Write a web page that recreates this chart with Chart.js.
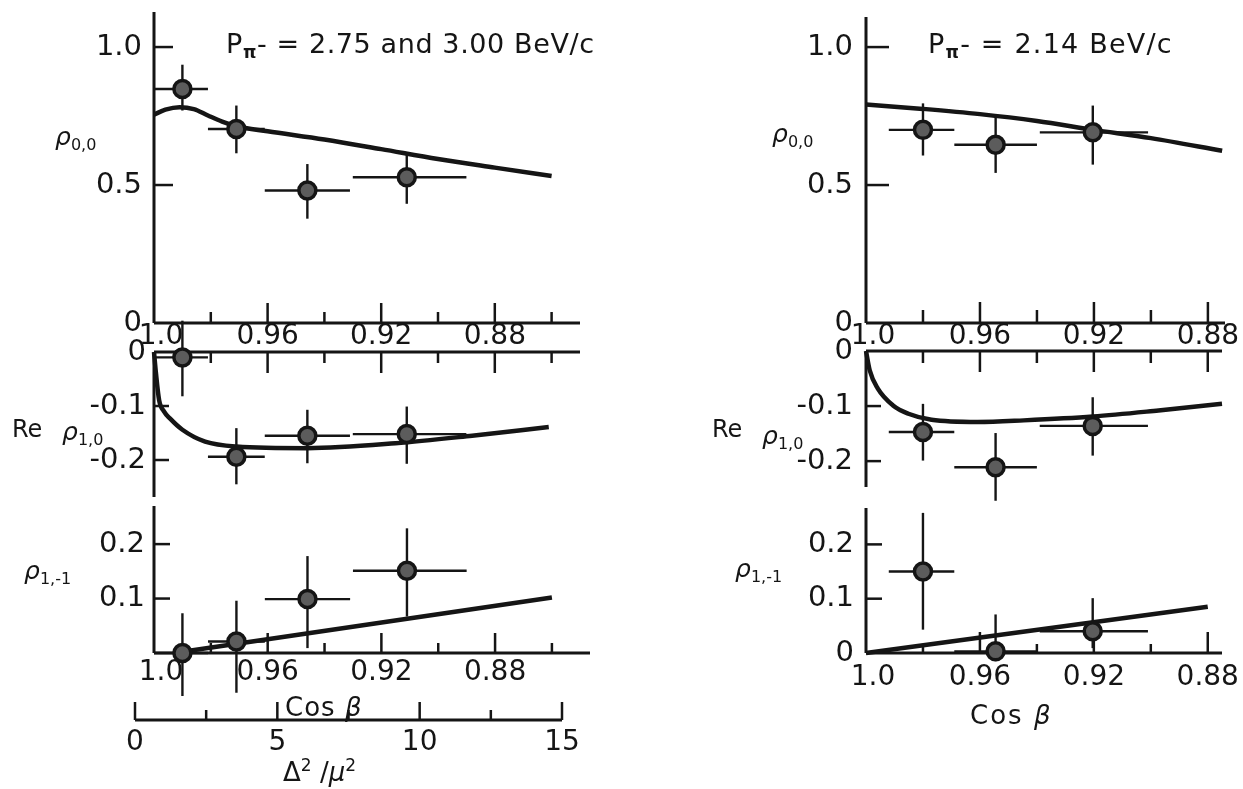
<!DOCTYPE html>
<html>
<head>
<meta charset="utf-8">
<script src="https://cdn.jsdelivr.net/npm/chart.js@4.4.1/dist/chart.umd.min.js"></script>
<style>
  html, body { margin: 0; padding: 0; background: #fff; }
  #page { position: relative; width: 1243px; height: 789px; overflow: hidden; background: #fff; }
  #page canvas { position: absolute; left: 0; top: 0; }
  .lbl { position: absolute; font-family: "DejaVu Sans", sans-serif; color: #151515; line-height: 1; white-space: nowrap; }
  .t { font-size: 27px; letter-spacing: 0.6px; }
  .t sub { font-size: 17px; font-weight: bold; vertical-align: -5px; }
  .g { font-size: 24px; }
  .g i { font-size: 25px; }
  .g sub { font-size: 16px; vertical-align: -5px; }
  .c { font-size: 26px; }
</style>
</head>
<body>
<div id="page">
  <canvas id="tl" width="1243" height="789"></canvas>
  <canvas id="ml" width="1243" height="789"></canvas>
  <canvas id="bl" width="1243" height="789"></canvas>
  <canvas id="dl" width="1243" height="789"></canvas>
  <canvas id="tr" width="1243" height="789"></canvas>
  <canvas id="mr" width="1243" height="789"></canvas>
  <canvas id="br" width="1243" height="789"></canvas>

  <div class="lbl t" style="left:226px;top:30px">P<sub>π</sub>- = 2.75 and 3.00 BeV/c</div>
  <div class="lbl t" style="left:928px;top:30px;letter-spacing:1.2px">P<sub>π</sub>- = 2.14 BeV/c</div>

  <div class="lbl g" style="left:55px;top:124px"><i>ρ</i><sub>0,0</sub></div>
  <div class="lbl g" style="left:12px;top:417px">Re</div>
  <div class="lbl g" style="left:62px;top:419px"><i>ρ</i><sub>1,0</sub></div>
  <div class="lbl g" style="left:24px;top:558px"><i>ρ</i><sub>1,-1</sub></div>

  <div class="lbl g" style="left:772px;top:121px"><i>ρ</i><sub>0,0</sub></div>
  <div class="lbl g" style="left:712px;top:417px">Re</div>
  <div class="lbl g" style="left:762px;top:423px"><i>ρ</i><sub>1,0</sub></div>
  <div class="lbl g" style="left:735px;top:556px"><i>ρ</i><sub>1,-1</sub></div>

  <div class="lbl c" style="left:285px;top:694px;letter-spacing:1px">Cos <i>β</i></div>
  <div class="lbl c" style="left:970px;top:702px;letter-spacing:2px">Cos <i>β</i></div>
  <div class="lbl c" style="left:283px;top:757px">Δ<sup style="font-size:17px">2</sup> /<i>μ</i><sup style="font-size:17px">2</sup></div>
</div>

<script>
// --- values ---

// left column, P = 2.75 and 3.00 BeV/c
const cosL = [0.990, 0.971, 0.946, 0.911];
const binFromL = [1.000, 0.981, 0.961, 0.930];
const binToL = [0.981, 0.961, 0.931, 0.890];

const rho00L = [0.848, 0.703, 0.480, 0.528];
const rho00L_up = [0.088, 0.085, 0.096, 0.090];
const rho00L_dn = [0.078, 0.088, 0.102, 0.096];

const re10L = [-0.010, -0.194, -0.155, -0.152];
const re10L_up = [0.068, 0.053, 0.048, 0.051];
const re10L_dn = [0.072, 0.051, 0.051, 0.055];

const rho1m1L = [0.000, 0.021, 0.099, 0.151];
const rho1m1L_up = [0.073, 0.075, 0.079, 0.078];
const rho1m1L_dn = [0.079, 0.094, 0.090, 0.084];

const fit00L_x = [1.0, 0.996, 0.991, 0.986, 0.981, 0.976, 0.971, 0.96, 0.94, 0.92, 0.90, 0.88, 0.86];
const fit00L_y = [0.755, 0.773, 0.782, 0.775, 0.752, 0.730, 0.713, 0.695, 0.665, 0.630, 0.594, 0.563, 0.533];
const fit10L_x = [1.0, 0.9993, 0.9982, 0.9965, 0.9944, 0.990, 0.982, 0.971, 0.946, 0.915, 0.888, 0.861];
const fit10L_y = [0.0, -0.040, -0.089, -0.110, -0.123, -0.144, -0.166, -0.175, -0.178, -0.169, -0.155, -0.139];
const fit1m1L_x = [0.993, 0.860];
const fit1m1L_y = [0.0, 0.102];

// right column, P = 2.14 BeV/c
const cosR = [0.980, 0.9545, 0.9204];
const binFromR = [0.992, 0.969, 0.939];
const binToR = [0.969, 0.940, 0.901];

const rho00R = [0.700, 0.646, 0.691];
const rho00R_up = [0.096, 0.102, 0.097];
const rho00R_dn = [0.093, 0.102, 0.117];

const re10R = [-0.147, -0.211, -0.136];
const re10R_up = [0.051, 0.062, 0.052];
const re10R_dn = [0.052, 0.061, 0.054];

const rho1m1R = [0.150, 0.003, 0.040];
const rho1m1R_up = [0.108, 0.068, 0.061];
const rho1m1R_dn = [0.107, 0.018, 0.031];

const fit00R_x = [1.0, 0.98, 0.96, 0.94, 0.92, 0.90, 0.875];
const fit00R_y = [0.792, 0.776, 0.757, 0.732, 0.700, 0.670, 0.624];
const fit10R_x = [1.0, 0.9987, 0.9959, 0.9905, 0.9851, 0.977, 0.9608, 0.9446, 0.9203, 0.8973, 0.875];
const fit10R_y = [0.0, -0.035, -0.068, -0.099, -0.114, -0.125, -0.129, -0.126, -0.119, -0.108, -0.096];
const fit1m1R_x = [1.0, 0.880];
const fit1m1R_y = [0.0, 0.085];

// ticks
const cosTicksL = [0.98, 0.96, 0.94, 0.92, 0.90, 0.88, 0.86];
const cosTicksR = [0.98, 0.96, 0.94, 0.92, 0.90, 0.88];
const cosLong = [0.96, 0.92, 0.88];
const cosLabels = [1.0, 0.96, 0.92, 0.88];
const yLabels00 = [0, 0.5, 1.0];
const yMarks00 = [0.5, 1.0];
const yLabels10 = [0, -0.1, -0.2];
const yMarks10 = [-0.1, -0.2];
const yLabels1m1L = [0.1, 0.2];
const yLabels1m1R = [0, 0.1, 0.2];
const yMarks1m1 = [0.1, 0.2];
const deltaTicks = [0, 2.5, 5, 7.5, 10, 12.5, 15];
const deltaLong = [0, 5, 10, 15];
const deltaLabels = [0, 5, 10, 15];

const INK = '#151515';
const FONT = '"DejaVu Sans", sans-serif';
const PAGE_W = 1243, PAGE_H = 789;
const Y_W = 90, X_H = 40;   // tick labels are clipped to the scale box, so keep it wide

function xy(xs, ys) { return xs.map((x, i) => ({ x: x, y: ys[i] })); }

// axes, inside tick marks and error bars, all placed through the chart scales
const sketchPlugin = {
    id: 'sketch',
    beforeDatasetsDraw(chart, args, o) {
        const ctx = chart.ctx, a = chart.chartArea;
        const xs = chart.scales.x, ys = chart.scales.y;
        const seg = (x1, y1, x2, y2) => { ctx.beginPath(); ctx.moveTo(x1, y1); ctx.lineTo(x2, y2); ctx.stroke(); };
        ctx.save();
        ctx.strokeStyle = INK;
        ctx.lineCap = 'butt';

        ctx.lineWidth = 3;
        if (o.yAxis) seg(a.left, a.top, a.left, a.bottom);
        const y0 = ys.getPixelForValue(0);
        const span = o.xSpan || [xs.max, xs.min];
        seg(xs.getPixelForValue(span[0]), y0, xs.getPixelForValue(span[1]), y0);

        ctx.lineWidth = 2.5;
        (o.xTicks || []).forEach(v => {
            const px = xs.getPixelForValue(v);
            const len = o.xLong.includes(v) ? o.longLen : o.shortLen;
            seg(px, y0, px, y0 + o.xDir * len);
        });
        (o.yTicks || []).forEach(v => {
            const py = ys.getPixelForValue(v);
            seg(a.left, py, a.left + o.yLen, py);
        });

        ctx.lineWidth = 2.4;
        chart.data.datasets.forEach(ds => {
            if (!ds.errUp) return;
            ds.data.forEach((p, i) => {
                const px = xs.getPixelForValue(p.x), py = ys.getPixelForValue(p.y);
                seg(px, ys.getPixelForValue(p.y + ds.errUp[i]), px, ys.getPixelForValue(p.y - ds.errDn[i]));
                seg(xs.getPixelForValue(ds.binFrom[i]), py, xs.getPixelForValue(ds.binTo[i]), py);
            });
        });
        ctx.restore();
    }
};

// the "1.0" under the cos axis sits a little right of its tick
function fmtX(v) { return v === 1 ? '\u20021.0' : String(v); }
function fmtY(v) { return v === 1 ? '1.0' : String(v); }

function panel(id, area, xr, yr, o) {
    const xShown = !!o.xLabels;
    const yShown = !!o.yLabels;
    return new Chart(document.getElementById(id), {
        type: 'scatter',
        data: {
            datasets: o.points ? [
                {
                    data: xy(o.points.x, o.points.y),
                    pointRadius: 8.5, pointBackgroundColor: '#5c5c5c', pointBorderColor: INK, pointBorderWidth: 3.5,
                    clip: false,
                    errUp: o.points.up, errDn: o.points.dn, binFrom: o.points.from, binTo: o.points.to
                },
                {
                    data: xy(o.fit.x, o.fit.y),
                    showLine: true, pointRadius: 0, borderColor: INK, borderWidth: 4.5,
                    cubicInterpolationMode: 'monotone', clip: false
                }
            ] : []
        },
        options: {
            responsive: false,
            animation: false,
            events: [],
            layout: {
                padding: {
                    left: area.left - (yShown ? Y_W : 0),
                    top: area.top,
                    right: PAGE_W - area.right,
                    bottom: PAGE_H - area.bottom - (xShown ? X_H : 0)
                }
            },
            plugins: {
                legend: { display: false },
                tooltip: { enabled: false },
                sketch: o.sketch
            },
            scales: {
                x: {
                    type: 'linear', reverse: !!o.reverse, min: xr[0], max: xr[1], bounds: 'data',
                    display: xShown, position: 'bottom',
                    grid: { display: false, drawTicks: false, tickLength: 0 },
                    border: { display: false },
                    ticks: {
                        autoSkip: false, maxRotation: 0, padding: o.xPad || 0, color: INK,
                        font: { family: FONT, size: 28, lineHeight: 1 },
                        callback: v => fmtX(v)
                    },
                    afterBuildTicks: s => { if (xShown) s.ticks = o.xLabels.map(v => ({ value: v })); },
                    afterFit: s => {
                        s.height = xShown ? X_H : 0;
                        s.paddingLeft = s.paddingRight = s.paddingTop = s.paddingBottom = 0;
                    }
                },
                y: {
                    type: 'linear', min: yr[0], max: yr[1], bounds: 'data',
                    display: yShown,
                    grid: { display: false, drawTicks: false, tickLength: 0 },
                    border: { display: false },
                    ticks: {
                        autoSkip: false, padding: o.yPad || 0, color: INK,
                        font: { family: FONT, size: 29, lineHeight: 1 },
                        callback: v => fmtY(v)
                    },
                    afterBuildTicks: s => { if (yShown) s.ticks = o.yLabels.map(v => ({ value: v })); },
                    afterFit: s => {
                        s.width = yShown ? Y_W : 0;
                        s.paddingLeft = s.paddingRight = s.paddingTop = s.paddingBottom = 0;
                    }
                }
            }
        },
        plugins: [sketchPlugin]
    });
}

// --- left column ---
panel('tl', { left: 154, top: 12, right: 580, bottom: 323 }, [0.85, 1.0], [0, 1.127], {
    reverse: true,
    points: { x: cosL, y: rho00L, up: rho00L_up, dn: rho00L_dn, from: binFromL, to: binToL },
    fit: { x: fit00L_x, y: fit00L_y },
    xLabels: cosLabels, xPad: 0, yLabels: yLabels00, yPad: 12,
    sketch: { yAxis: true, xTicks: cosTicksL, xLong: cosLong, xDir: -1, longLen: 20, shortLen: 11, yTicks: yMarks00, yLen: 19 }
});

panel('ml', { left: 154, top: 352, right: 580, bottom: 497 }, [0.85, 1.0], [-0.2685, 0], {
    reverse: true,
    points: { x: cosL, y: re10L, up: re10L_up, dn: re10L_dn, from: binFromL, to: binToL },
    fit: { x: fit10L_x, y: fit10L_y },
    yLabels: yLabels10, yPad: 8,
    sketch: { yAxis: true, xTicks: cosTicksL, xLong: cosLong, xDir: 1, longLen: 21, shortLen: 11, yTicks: yMarks10, yLen: 15 }
});

panel('bl', { left: 154, top: 506, right: 590, bottom: 653 }, [0.8466, 1.0], [0, 0.27], {
    reverse: true,
    points: { x: cosL, y: rho1m1L, up: rho1m1L_up, dn: rho1m1L_dn, from: binFromL, to: binToL },
    fit: { x: fit1m1L_x, y: fit1m1L_y },
    xLabels: cosLabels, xPad: 6, yLabels: yLabels1m1L, yPad: 9,
    sketch: { yAxis: true, xTicks: cosTicksL, xLong: cosLong, xDir: -1, longLen: 20, shortLen: 10, yTicks: yMarks1m1, yLen: 16 }
});

// second scale under the left column: momentum transfer
panel('dl', { left: 135, top: 695, right: 562, bottom: 720 }, [0, 15], [0, 1], {
    xLabels: deltaLabels, xPad: 9,
    sketch: { yAxis: false, xSpan: [0, 15], xTicks: deltaTicks, xLong: deltaLong, xDir: -1, longLen: 18, shortLen: 10 }
});

// --- right column ---
panel('tr', { left: 866, top: 17, right: 1225, bottom: 323 }, [0.874, 1.0], [0, 1.109], {
    reverse: true,
    points: { x: cosR, y: rho00R, up: rho00R_up, dn: rho00R_dn, from: binFromR, to: binToR },
    fit: { x: fit00R_x, y: fit00R_y },
    xLabels: cosLabels, xPad: 0, yLabels: yLabels00, yPad: 13,
    sketch: { yAxis: true, xTicks: cosTicksR, xLong: cosLong, xDir: -1, longLen: 21, shortLen: 13, yTicks: yMarks00, yLen: 23 }
});

panel('mr', { left: 866, top: 351, right: 1222, bottom: 487 }, [0.875, 1.0], [-0.247, 0], {
    reverse: true,
    points: { x: cosR, y: re10R, up: re10R_up, dn: re10R_dn, from: binFromR, to: binToR },
    fit: { x: fit10R_x, y: fit10R_y },
    yLabels: yLabels10, yPad: 13,
    sketch: { yAxis: true, xTicks: cosTicksR, xLong: cosLong, xDir: 1, longLen: 21, shortLen: 12, yTicks: yMarks10, yLen: 15 }
});

panel('br', { left: 866, top: 508, right: 1222, bottom: 653 }, [0.875, 1.0], [0, 0.267], {
    reverse: true,
    points: { x: cosR, y: rho1m1R, up: rho1m1R_up, dn: rho1m1R_dn, from: binFromR, to: binToR },
    fit: { x: fit1m1R_x, y: fit1m1R_y },
    xLabels: cosLabels, xPad: 11, yLabels: yLabels1m1R, yPad: 12,
    sketch: { yAxis: true, xTicks: cosTicksR, xLong: cosLong, xDir: -1, longLen: 21, shortLen: 9, yTicks: yMarks1m1, yLen: 16 }
});
</script>
</body>
</html>
